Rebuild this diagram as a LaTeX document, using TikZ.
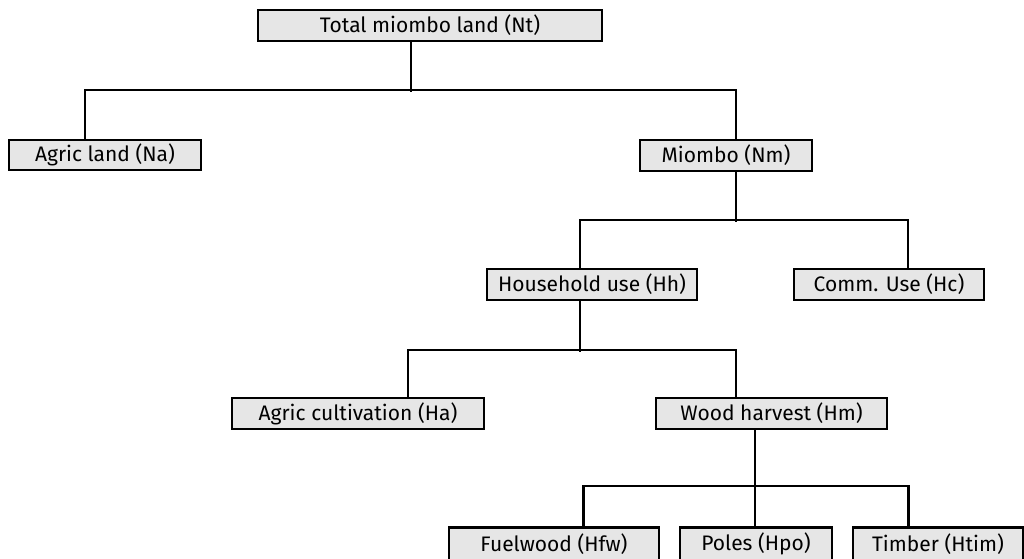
\documentclass[tikz,border=0pt]{standalone}
\usepackage{fontspec}
\setmainfont{Fira Sans}
\definecolor{boxgray}{HTML}{E6E6E6}
\begin{document}
\begin{tikzpicture}[x=1pt,y=-1pt,
  box/.style={draw=black, line width=2.7pt, fill=boxgray, inner sep=0pt,
    minimum height=31pt, font=\fontsize{21}{25}\selectfont},
  link/.style={line width=2.2pt}]
\useasboundingbox (0,0) rectangle (1024,558);

% level 0
\node[box, minimum width=344pt] (Nt) at (430,25.5) {Total miombo land (Nt)};
% level 1
\node[box, minimum width=192pt, minimum height=30pt] (Na) at (105,155) {Agric land (Na)};
\node[box, minimum width=172pt] (Nm) at (726,155.5) {Miombo (Nm)};
% level 2
\node[box, minimum width=210pt] (Hh) at (592,284.5) {Household use (Hh)};
\node[box, minimum width=190pt] (Hc) at (889,284.5) {Comm. Use (Hc)};
% level 3
\node[box, minimum width=252pt] (Ha) at (358,413.5) {Agric cultivation (Ha)};
\node[box, minimum width=231pt] (Hm) at (771.5,413.5) {Wood harvest (Hm)};
% level 4
\node[box, minimum width=210pt, minimum height=33pt] (Hfw) at (554,544) {Fuelwood (Hfw)};
\node[box, minimum width=152pt, minimum height=33pt] (Hpo) at (756,544) {Poles (Hpo)};
\node[box, minimum width=170pt, minimum height=33pt] (Htim) at (938,544) {Timber (Htim)};

% junction points of the branch bars
\coordinate (b1) at (411,90);
\coordinate (b2) at (736,220);
\coordinate (b3) at (580,350);
\coordinate (b4) at (755,486);

% Nt -> Na, Nm
\draw[link] (b1 |- Nt.south) -- ([yshift=-2pt]b1);
\draw[link] ([xshift=-20pt]Na.north) |- (b1) -| ([xshift=10pt]Nm.north);
% Nm -> Hh, Hc
\draw[link] (b2 |- Nm.south) -- ([yshift=-2pt]b2);
\draw[link] ([xshift=-12pt]Hh.north) |- (b2) -| ([xshift=19pt]Hc.north);
% Hh -> Ha, Hm
\draw[link] (b3 |- Hh.south) -- ([yshift=-2pt]b3);
\draw[link] ([xshift=50pt]Ha.north) |- (b3) -| ([xshift=-35.5pt]Hm.north);
% Hm -> Hfw, Hpo, Htim
\draw[link] (b4 |- Hm.south) -- (b4 |- Hpo.north);
\draw[link] ([xshift=29.5pt]Hfw.north) |- (b4) -| ([xshift=-29.5pt]Htim.north);
\end{tikzpicture}
\end{document}
